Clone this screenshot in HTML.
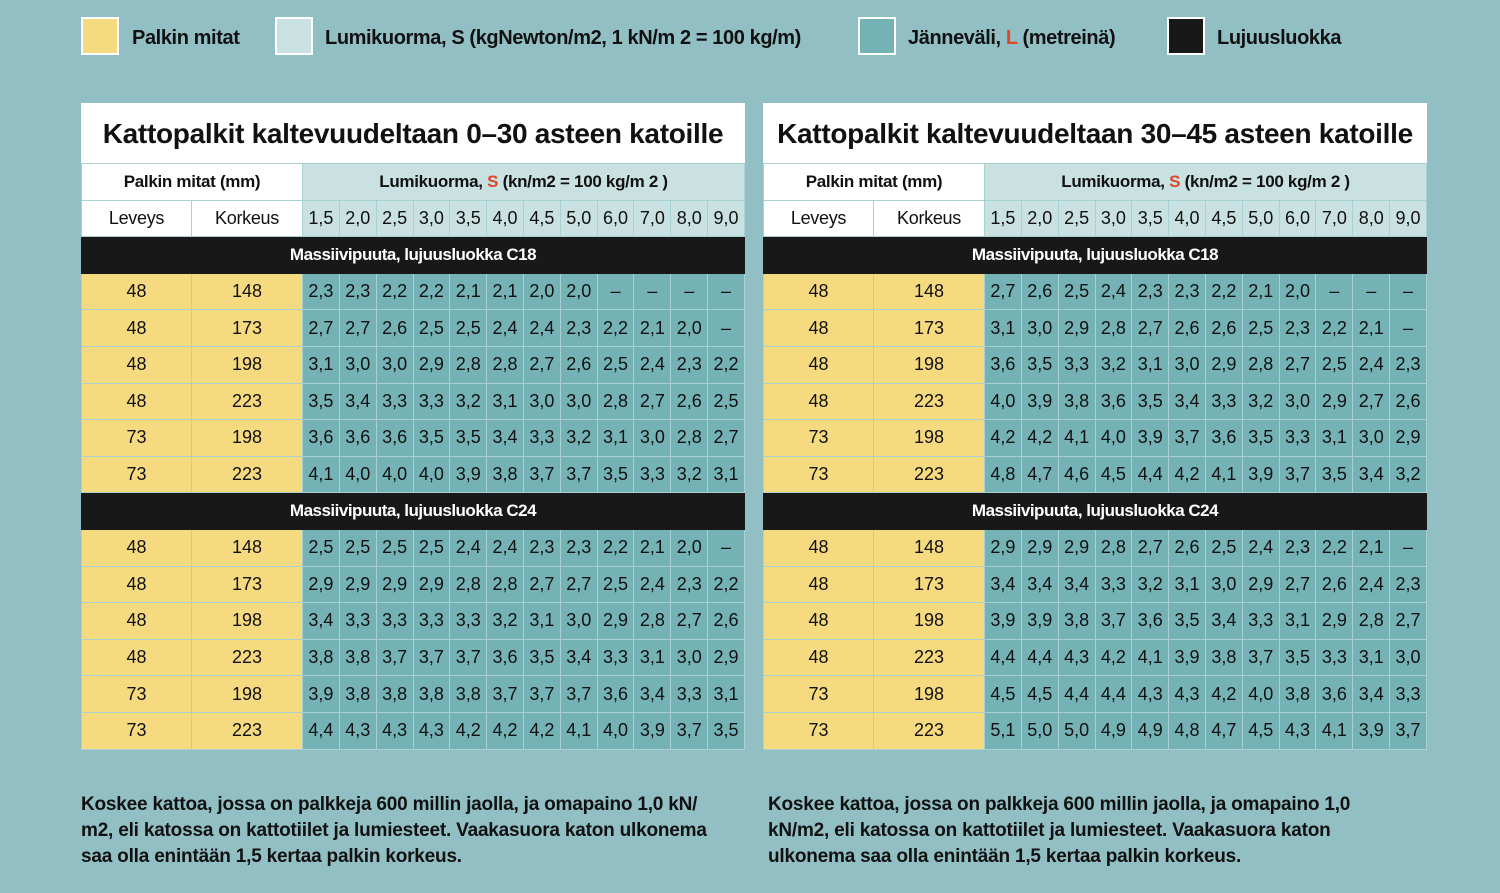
<!DOCTYPE html>
<html><head><meta charset="utf-8"><style>
body{margin:0;width:1500px;height:893px;background:#92bfc3;font-family:"Liberation Sans",sans-serif;position:relative;overflow:hidden;color:#111}
.lg{position:absolute;top:17px;width:34px;height:34px;border:2px solid #fff}
.lt{position:absolute;top:27px;font-size:20px;font-weight:bold;letter-spacing:-0.4px}
.tb{position:absolute;top:103px;width:664px}
.title{background:#fff;height:60px;font-size:28px;font-weight:bold;line-height:62px;text-align:center;letter-spacing:-0.3px}
table{border-collapse:collapse;width:664px;table-layout:fixed}
tr{height:36.6px}
td{border:1.5px solid #a8d1d4;text-align:center;font-size:18px;padding:0;white-space:nowrap}
.w{background:#fff;font-weight:bold;font-size:17px;letter-spacing:-0.3px}
.h{background:#c9e1e0;font-weight:bold;font-size:17px;letter-spacing:-0.3px}
.hn{background:#c9e1e0;font-size:18px}
.bk{background:#181818;color:#fff;font-weight:bold;font-size:17px;border-color:#181818;letter-spacing:-0.5px}
.y{background:#f6da80}
.t{background:#75b2b5}
.r{color:#e0462a}
.ft{position:absolute;top:792px;font-size:19px;font-weight:bold;line-height:26px;letter-spacing:-0.2px}
</style></head><body>
<div class="lg" style="left:81px;background:#f6da80"></div><div class="lt" style="left:132px">Palkin mitat</div>
<div class="lg" style="left:275px;background:#c9e1e0"></div><div class="lt" style="left:325px">Lumikuorma, S (kgNewton/m2, 1 kN/m 2 = 100 kg/m)</div>
<div class="lg" style="left:858px;background:#75b2b5"></div><div class="lt" style="left:908px">Jänneväli, <span class="r">L</span> (metreinä)</div>
<div class="lg" style="left:1167px;background:#181818"></div><div class="lt" style="left:1217px">Lujuusluokka</div>

<div class="tb" style="left:81px">
<div class="title">Kattopalkit kaltevuudeltaan 0–30 asteen katoille</div>
<table id="t1"></table></div>
<div class="tb" style="left:763px">
<div class="title">Kattopalkit kaltevuudeltaan 30–45 asteen katoille</div>
<table id="t2"></table></div>

<div class="ft" style="left:81px;width:660px">Koskee kattoa, jossa on palkkeja 600 millin jaolla, ja omapaino 1,0 kN/<br>m2, eli katossa on kattotiilet ja lumiesteet. Vaakasuora katon ulkonema<br>saa olla enintään 1,5 kertaa palkin korkeus.</div>
<div class="ft" style="left:768px;width:640px">Koskee kattoa, jossa on palkkeja 600 millin jaolla, ja omapaino 1,0<br>kN/m2, eli katossa on kattotiilet ja lumiesteet. Vaakasuora katon<br>ulkonema saa olla enintään 1,5 kertaa palkin korkeus.</div>
<script>
var dims=[["48","148"],["48","173"],["48","198"],["48","223"],["73","198"],["73","223"]];
var s=["1,5","2,0","2,5","3,0","3,5","4,0","4,5","5,0","6,0","7,0","8,0","9,0"];
var D1=[["2,3 2,3 2,2 2,2 2,1 2,1 2,0 2,0 – – – –","2,7 2,7 2,6 2,5 2,5 2,4 2,4 2,3 2,2 2,1 2,0 –","3,1 3,0 3,0 2,9 2,8 2,8 2,7 2,6 2,5 2,4 2,3 2,2","3,5 3,4 3,3 3,3 3,2 3,1 3,0 3,0 2,8 2,7 2,6 2,5","3,6 3,6 3,6 3,5 3,5 3,4 3,3 3,2 3,1 3,0 2,8 2,7","4,1 4,0 4,0 4,0 3,9 3,8 3,7 3,7 3,5 3,3 3,2 3,1"],
["2,5 2,5 2,5 2,5 2,4 2,4 2,3 2,3 2,2 2,1 2,0 –","2,9 2,9 2,9 2,9 2,8 2,8 2,7 2,7 2,5 2,4 2,3 2,2","3,4 3,3 3,3 3,3 3,3 3,2 3,1 3,0 2,9 2,8 2,7 2,6","3,8 3,8 3,7 3,7 3,7 3,6 3,5 3,4 3,3 3,1 3,0 2,9","3,9 3,8 3,8 3,8 3,8 3,7 3,7 3,7 3,6 3,4 3,3 3,1","4,4 4,3 4,3 4,3 4,2 4,2 4,2 4,1 4,0 3,9 3,7 3,5"]];
var D2=[["2,7 2,6 2,5 2,4 2,3 2,3 2,2 2,1 2,0 – – –","3,1 3,0 2,9 2,8 2,7 2,6 2,6 2,5 2,3 2,2 2,1 –","3,6 3,5 3,3 3,2 3,1 3,0 2,9 2,8 2,7 2,5 2,4 2,3","4,0 3,9 3,8 3,6 3,5 3,4 3,3 3,2 3,0 2,9 2,7 2,6","4,2 4,2 4,1 4,0 3,9 3,7 3,6 3,5 3,3 3,1 3,0 2,9","4,8 4,7 4,6 4,5 4,4 4,2 4,1 3,9 3,7 3,5 3,4 3,2"],
["2,9 2,9 2,9 2,8 2,7 2,6 2,5 2,4 2,3 2,2 2,1 –","3,4 3,4 3,4 3,3 3,2 3,1 3,0 2,9 2,7 2,6 2,4 2,3","3,9 3,9 3,8 3,7 3,6 3,5 3,4 3,3 3,1 2,9 2,8 2,7","4,4 4,4 4,3 4,2 4,1 3,9 3,8 3,7 3,5 3,3 3,1 3,0","4,5 4,5 4,4 4,4 4,3 4,3 4,2 4,0 3,8 3,6 3,4 3,3","5,1 5,0 5,0 4,9 4,9 4,8 4,7 4,5 4,3 4,1 3,9 3,7"]];
function build(id,D){var h='<colgroup><col style="width:110px"><col style="width:111px">'+'<col>'.repeat(12)+'</colgroup>';
h+='<tr><td class="w" colspan="2">Palkin mitat (mm)</td><td class="h" colspan="12">Lumikuorma, <span class="r">S</span> (kn/m2 = 100 kg/m 2 )</td></tr>';
h+='<tr><td class="w" style="font-weight:normal;font-size:18px">Leveys</td><td class="w" style="font-weight:normal;font-size:18px">Korkeus</td>'+s.map(function(x){return'<td class="hn">'+x+'</td>'}).join('')+'</tr>';
["C18","C24"].forEach(function(c,g){h+='<tr><td class="bk" colspan="14">Massiivipuuta, lujuusluokka '+c+'</td></tr>';
for(var i=0;i<6;i++){h+='<tr><td class="y">'+dims[i][0]+'</td><td class="y">'+dims[i][1]+'</td>'+D[g][i].split(' ').map(function(x){return'<td class="t">'+x+'</td>'}).join('')+'</tr>';}});
document.getElementById(id).innerHTML=h;}
build('t1',D1);build('t2',D2);
</script>
</body></html>
